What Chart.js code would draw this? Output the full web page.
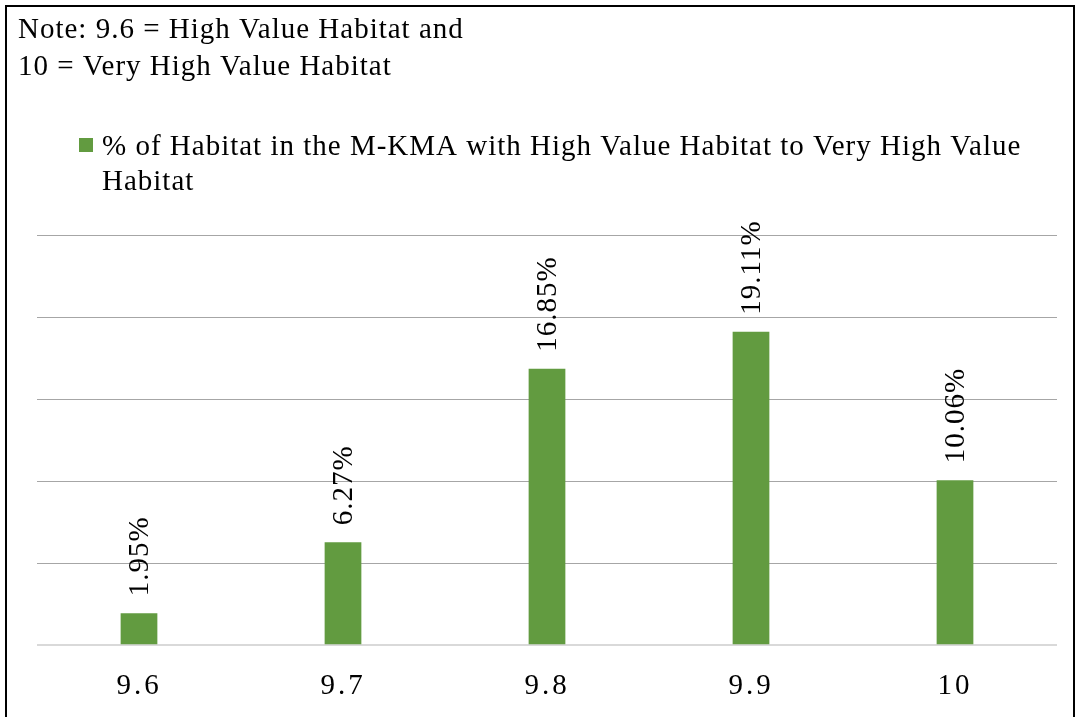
<!DOCTYPE html>
<html>
<head>
<meta charset="utf-8">
<script src="https://cdn.jsdelivr.net/npm/chart.js@4"></script>
<style>
  html, body { margin: 0; padding: 0; background: #fff; }
  #wrap { width: 1078px; height: 717px; }
</style>
</head>
<body>
<div id="wrap"><canvas id="chartContainer" width="1078" height="717"></canvas></div>
<script>
// data
const categories = ['9.6', '9.7', '9.8', '9.9', '10'];
const habitatPct = [1.95, 6.27, 16.85, 19.11, 10.06];
const yTicks = [0, 5, 10, 15, 20, 25];
const noteLines = ['Note: 9.6 = High Value Habitat and', '10 = Very High Value Habitat'];
const legendLines = ['% of Habitat in the M-KMA with High Value Habitat to Very High Value', 'Habitat'];

const FONT = '"Liberation Serif", "Times New Roman", serif';
const GREEN = '#629b40';

// note, legend, frame and rotated value labels
const decor = {
  id: 'decor',
  beforeDraw(chart) {
    const ctx = chart.ctx;
    ctx.save();
    ctx.strokeStyle = '#000';
    ctx.lineWidth = 2;
    ctx.strokeRect(6, 6, 1068, 760);
    ctx.fillStyle = '#000';
    ctx.font = '29px ' + FONT;
    ctx.letterSpacing = '1px';
    ctx.textBaseline = 'alphabetic';
    ctx.fillText(noteLines[0], 18, 38);
    ctx.fillText(noteLines[1], 18, 75);
    ctx.fillStyle = GREEN;
    ctx.fillRect(79, 138, 14, 14);
    ctx.fillStyle = '#000';
    ctx.fillText(legendLines[0], 102, 155);
    ctx.fillText(legendLines[1], 102, 190);
    ctx.restore();
    // spaced out category labels
    ctx.letterSpacing = '3px';
  },
  beforeDatasetsDraw(chart) {
    chart.ctx.letterSpacing = '0px';
  },
  afterDatasetsDraw(chart) {
    const ctx = chart.ctx;
    const meta = chart.getDatasetMeta(0);
    ctx.save();
    ctx.fillStyle = '#000';
    ctx.font = '29px ' + FONT;
    ctx.letterSpacing = '1px';
    ctx.textAlign = 'left';
    ctx.textBaseline = 'middle';
    meta.data.forEach((bar, i) => {
      ctx.save();
      ctx.translate(bar.x + 1, bar.y - 17);
      ctx.rotate(-Math.PI / 2);
      ctx.fillText(habitatPct[i].toFixed(2) + '%', 0, 0);
      ctx.restore();
    });
    ctx.restore();
  }
};

let chart = new Chart(document.getElementById('chartContainer').getContext('2d'), {
  type: 'bar',
  data: {
    labels: categories,
    datasets: [{
      label: legendLines.join(' '),
      data: habitatPct,
      backgroundColor: GREEN,
      borderWidth: 0,
      categoryPercentage: 1,
      barPercentage: 0.18
    }]
  },
  options: {
    responsive: false,
    animation: false,
    layout: { padding: { top: 235, left: 37, right: 21, bottom: -11 } },
    plugins: {
      legend: { display: false },
      title: { display: false },
      tooltip: { enabled: false }
    },
    scales: {
      x: {
        grid: { display: false, drawTicks: false },
        border: { display: false },
        ticks: {
          color: '#000',
          padding: 24,
          font: { family: FONT, size: 29 }
        }
      },
      y: {
        min: 0,
        max: 25,
        afterBuildTicks(axis) { axis.ticks = yTicks.map(v => ({ value: v })); },
        ticks: { display: false },
        border: { display: false },
        grid: {
          color: c => c.tick.value === 0 ? '#d9d9d9' : '#a6a6a6',
          lineWidth: c => c.tick.value === 0 ? 2 : 1,
          drawTicks: false
        }
      }
    }
  },
  plugins: [decor]
});
</script>
</body>
</html>
